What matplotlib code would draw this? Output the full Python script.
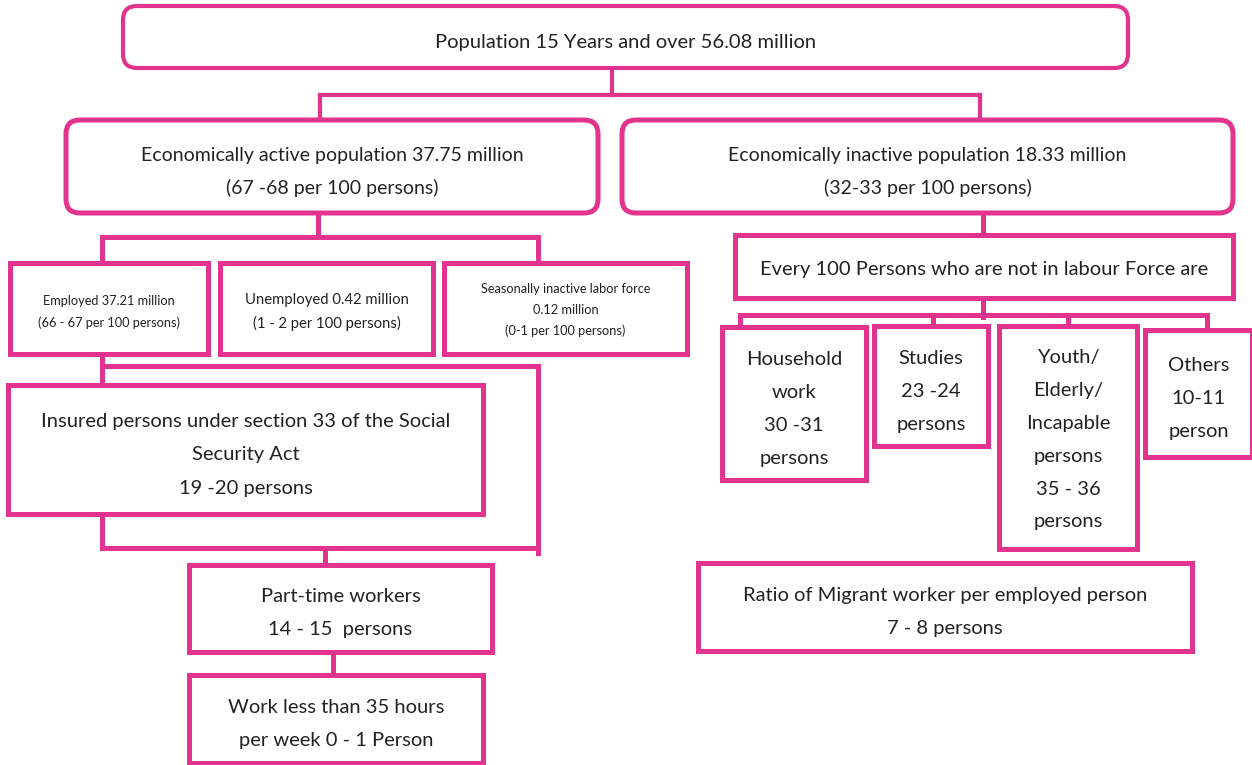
import matplotlib.pyplot as plt
from matplotlib.patches import FancyBboxPatch, Rectangle

PINK = '#E2338E'
plt.rcParams['font.family'] = ['Lato', 'DejaVu Sans']

# texts of the chart
top_text = ['Population 15 Years and over 56.08 million']
active_text = ['Economically active population 37.75 million', '(67 -68 per 100 persons)']
inactive_text = ['Economically inactive population 18.33 million', '(32-33 per 100 persons)']
employed_text = ['Employed 37.21 million', '(66 - 67 per 100 persons)']
unemployed_text = ['Unemployed 0.42 million', '(1 - 2 per 100 persons)']
seasonal_text = ['Seasonally inactive labor force', '0.12 million', '(0-1 per 100 persons)']
insured_text = ['Insured persons under section 33 of the Social', 'Security Act', '19 -20 persons']
parttime_text = ['Part-time workers', '14 - 15  persons']
lessthan_text = ['Work less than 35 hours', 'per week 0 - 1 Person']
notlabour_text = ['Every 100 Persons who are not in labour Force are']
household_text = ['Household', 'work', '30 -31', 'persons']
studies_text = ['Studies', '23 -24', 'persons']
youth_text = ['Youth/', 'Elderly/', 'Incapable', 'persons', '35 - 36', 'persons']
others_text = ['Others', '10-11', 'person']
migrant_text = ['Ratio of Migrant worker per employed person', '7 - 8 persons']

fig = plt.figure(figsize=(12.52, 7.65), dpi=100)
ax = fig.add_axes([0, 0, 1, 1])
ax.set_xlim(0, 1252)
ax.set_ylim(765, 0)
ax.axis('off')


def box(x0, y0, x1, y1, lines, size=14.5, gap=33, rounded=False, lw=3.6, dy=5):
    if rounded:
        p = FancyBboxPatch((x0, y0), x1 - x0, y1 - y0,
                           boxstyle='round,pad=0,rounding_size=14',
                           fc='white', ec=PINK, lw=lw, zorder=3)
    else:
        p = Rectangle((x0, y0), x1 - x0, y1 - y0, fc='white', ec=PINK,
                      lw=lw, zorder=3)
    ax.add_patch(p)
    cx = (x0 + x1) / 2
    cy = (y0 + y1) / 2 + dy
    n = len(lines)
    for i, t in enumerate(lines):
        ax.text(cx, cy + (i - (n - 1) / 2) * gap, t, ha='center', va='center',
                fontsize=size, color='#222222', zorder=4)


def line(xs, ys, lw=3.6):
    ax.plot(xs, ys, color=PINK, lw=lw, solid_capstyle='projecting', zorder=2)


# connectors
line([612, 612], [68, 95], lw=3)
line([320, 980], [95, 95], lw=3)
line([320, 320], [95, 120], lw=3)
line([980, 980], [95, 120], lw=3)

line([318, 318], [213, 237])
line([102, 538], [237, 237])
line([102, 102], [237, 263])
line([538, 538], [237, 263])

line([102, 102], [354, 548])
line([102, 538], [366, 366])
line([538, 538], [366, 553])
line([102, 538], [548, 548])
line([325, 325], [548, 565])
line([333, 333], [652, 675])

line([983, 983], [213, 235])
line([983, 983], [298, 317])
line([740, 1207], [315, 315])
line([740, 740], [315, 327])
line([933, 933], [315, 326])
line([1068, 1068], [315, 326])
line([1207, 1207], [315, 330])

# boxes
box(123, 6, 1128, 68, top_text, size=14.5, rounded=True, lw=3)
box(66, 120, 598, 213, active_text, size=14, gap=32, rounded=True)
box(622, 120, 1233, 213, inactive_text, size=14, gap=32, rounded=True)
box(10, 263, 208, 354, employed_text, size=9.2, gap=22, dy=3)
box(220, 263, 433, 354, unemployed_text, size=10.7, gap=24, dy=3)
box(444, 263, 687, 354, seasonal_text, size=9.2, gap=21, dy=1)
box(8, 385, 483, 514, insured_text, size=14.5, gap=33.5)
box(189, 565, 492, 652, parttime_text, size=14.5)
box(189, 675, 483, 763, lessthan_text, size=14.5)
box(735, 235, 1233, 298, notlabour_text, size=14.5, dy=3)
box(722, 327, 866, 480, household_text, size=14.5)
box(874, 326, 988, 446, studies_text, size=14.5)
box(999, 326, 1137, 549, youth_text, size=14.5, dy=2)
box(1145, 330, 1252, 457, others_text, size=14.5)
box(698, 563, 1192, 651, migrant_text, size=14.5)

fig.savefig('out.png', dpi=100, facecolor='white')
